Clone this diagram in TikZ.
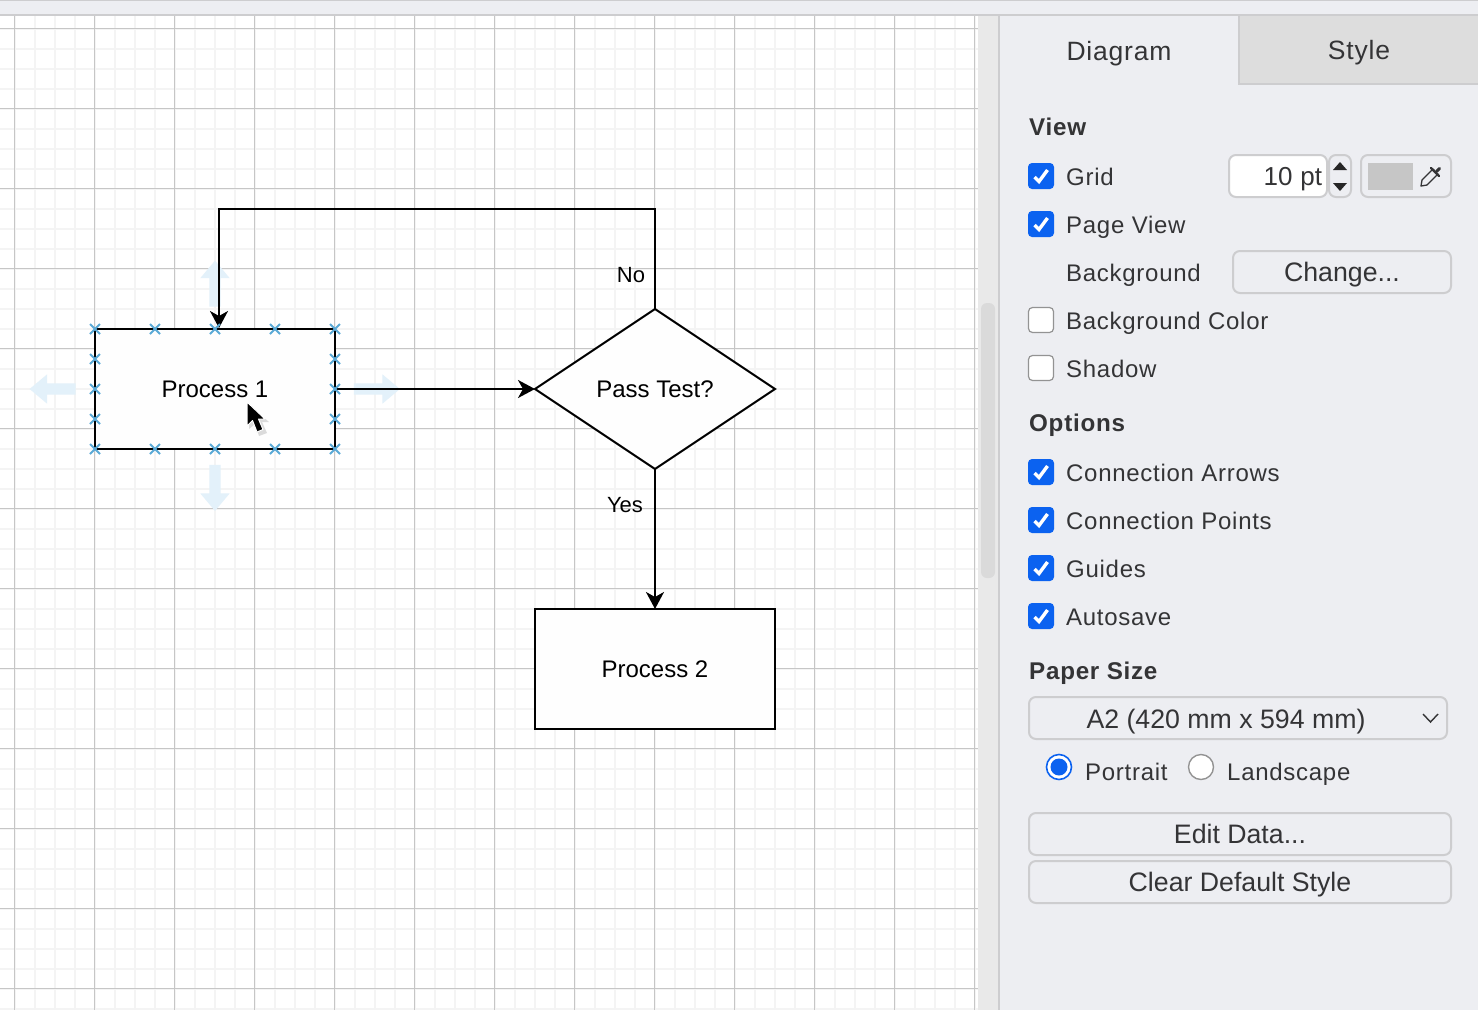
\documentclass[tikz,border=0pt]{standalone}
\usepackage{fontspec}
\setmainfont{Liberation Sans}
\newfontfamily\uifont[LetterSpace=3]{Liberation Sans}
\usepackage{xcolor}
\usetikzlibrary{calc,positioning,shapes.geometric,shapes.arrows,arrows.meta}
\definecolor{dark}{HTML}{000000}
\definecolor{body}{HTML}{343436}
\definecolor{panel}{HTML}{EDEEF2}
\definecolor{tabgrey}{HTML}{DDDDDD}
\definecolor{edgegrey}{HTML}{CDCDCF}
\definecolor{gutter}{HTML}{E9E9E9}
\definecolor{thumb}{HTML}{DADADA}
\definecolor{gridmajor}{HTML}{C6C6C6}
\definecolor{gridminor}{HTML}{F4F4F4}
\definecolor{checkblue}{HTML}{0B62F0}
\definecolor{pointblue}{HTML}{5AA9D6}
\definecolor{hintblue}{HTML}{E3F1FA}
\tikzset{
  x=1pt, y=-1pt,
  flow/.style={draw=dark, line width=2pt, -{Stealth[length=17pt,width=18pt,inset=5pt]}},
  shapebox/.style={draw=dark, line width=2pt, fill=white!99!gray, minimum width=240pt, minimum height=120pt, inner sep=0pt, outer sep=0pt, font=\fontsize{24}{28}\selectfont},
  decision/.style={diamond, aspect=1.5, draw=dark, line width=2pt, fill=white!99!gray, minimum width=240pt, minimum height=160pt, inner sep=0pt, outer sep=0pt, font=\fontsize{24}{28}\selectfont},
  edgelabel/.style={font=\fontsize{22}{26}\selectfont, inner sep=0pt},
  hint/.style={single arrow, fill=hintblue, draw=none, minimum height=46pt, inner sep=5.5pt, single arrow head extend=9pt, single arrow tip angle=80, shape border uses incircle=false},
  point/.style={draw=pointblue, line width=1.8pt},
  uilabel/.style={anchor=west, inner sep=0pt, text=body, text height=18pt, text depth=0pt, font=\uifont\fontsize{24}{28}\selectfont},
  uihead/.style={anchor=west, inner sep=0pt, text=body, text height=18pt, text depth=0pt, font=\uifont\bfseries\fontsize{24.2}{28}\selectfont},
  tabtext/.style={inner sep=0pt, text=body, text height=18pt, text depth=0pt, font=\uifont\fontsize{26.5}{30}\selectfont},
  checkon/.style={fill=checkblue, rounded corners=4pt, minimum size=26pt, inner sep=0pt, outer sep=0pt},
  checkoff/.style={draw=gray!85, line width=1.2pt, fill=white, rounded corners=4pt, minimum size=25pt, inner sep=0pt, outer sep=0pt},
  tick/.style={draw=white, line width=3.4pt},
  uibtn/.style={draw=edgegrey, line width=2pt, fill=panel, rounded corners=7pt, minimum height=42pt, inner sep=0pt, outer sep=0pt, text=body, text height=18pt, text depth=0pt, font=\fontsize{26.7}{30}\selectfont},
}
\begin{document}
\begin{tikzpicture}
  \useasboundingbox (0,0) rectangle (1478,1010);
  % canvas and grid
  \fill[white] (0,0) rectangle (1478,1010);
  \foreach \x in {14.5,34.5,...,974.5}
    \draw[gridminor, line width=2pt] (\x,15) -- (\x,1010);
  \foreach \y in {28.5,48.5,...,1008.5}
    \draw[gridminor, line width=2pt] (0,\y) -- (978,\y);
  \foreach \x in {14.5,94.5,...,974.5}
    \draw[gridmajor, line width=1.4pt] (\x,15) -- (\x,1010);
  \foreach \y in {28.5,108.5,...,988.5}
    \draw[gridmajor, line width=1.4pt] (0,\y) -- (978,\y);

  % hover arrows
  \node[hint, rotate=90] (hintup) at (215,287) {};
  \node[hint] (hintright) at (373.5,389) {};
  \node[hint, rotate=-90] (hintdown) at (215,484.5) {};
  \node[hint, rotate=180] (hintleft) at (56,389) {};

  % flowchart
  \node[shapebox] (proc1) at (215,389) {Process 1};
  \node[decision] (pass) at (655,389) {Pass Test?};
  \node[shapebox] (proc2) at (655,669) {Process 2};
  \coordinate (entry) at (219,328);
  \draw[flow] (proc1.east) -- (pass.west);
  \draw[flow] (pass.south) -- (proc2.north);
  \draw[flow] (pass.north) |- (219,209) -- (entry);
  \node[edgelabel] (nolabel) at (631,275) {No};
  \node[edgelabel] (yeslabel) at (625,505) {Yes};

  % connection points
  \foreach \px/\py in {95/329,155/329,215/329,275/329,335/329,95/449,155/449,215/449,275/449,335/449,95/359,95/389,95/419,335/359,335/389,335/419}
    \draw[point] (\px-5,\py-5) -- (\px+5,\py+5) (\px-5,\py+5) -- (\px+5,\py-5);

  % mouse cursor
  \fill[black!14] (249,405) -- (249,429) -- (255,424) -- (259,436) -- (267,433) -- (262,422) -- (269,422) -- cycle;
  \draw[white, line width=1pt, fill=black, line join=round] (247,402) -- (247,426) -- (252.5,420.5) -- (257,432) -- (263,429.5) -- (258.5,419) -- (265,419) -- cycle;

  % top bar, scrollbar and panel
  \fill[panel] (0,0) rectangle (1478,14);
  \draw[edgegrey, line width=1.5pt] (0,0.5) -- (1478,0.5);
  \draw[edgegrey, line width=2pt] (0,15) -- (1478,15);
  \fill[gutter] (978,16) rectangle (998,1010);
  \fill[thumb, rounded corners=6pt] (981,303) rectangle (995,578);
  \fill[panel] (999,16) rectangle (1478,1010);
  \draw[edgegrey, line width=2pt] (999,16) -- (999,1010);
  \fill[tabgrey] (1239,16) rectangle (1478,84);
  \draw[edgegrey, line width=2pt] (1239,16) -- (1239,84) -- (1478,84);
  \node[tabtext] (tabdiagram) at (1119,51) {Diagram};
  \node[tabtext] (tabstyle) at (1359,50) {Style};

  % section heads
  \node[uihead] (headview) at (1029,126) {View};
  \node[uihead] (headoptions) at (1029,422) {Options};
  \node[uihead] (headpaper) at (1029,670) {Paper Size};

  % check boxes
  \foreach \nm/\yy/\txt in {grid/176/Grid,pageview/224/Page View,arrows/472/Connection Arrows,points/520/Connection Points,guides/568/Guides,autosave/616/Autosave} {
    \node[checkon] (\nm) at (1041,\yy) {};
    \draw[tick] ([shift={(-6.5,1)}]\nm.center) -- ([shift={(-2,5.5)}]\nm.center) -- ([shift={(6.5,-6)}]\nm.center);
    \node[uilabel] (\nm text) at (1066,\yy) {\txt};
  }
  \foreach \nm/\yy/\txt in {bgcolor/320/Background Color,shadow/368/Shadow} {
    \node[checkoff] (\nm) at (1041,\yy) {};
    \node[uilabel] (\nm text) at (1066,\yy) {\txt};
  }
  \node[uilabel] (bgtext) at (1066,272) {Background};

  % grid size and colour
  \node[uibtn, fill=white, minimum width=98pt, text width=88pt, align=right, font=\fontsize{26}{30}\selectfont] (gridsize) at (1278,176) {10\hspace{-1pt} pt};
  \node[uibtn, minimum width=22pt] (stepper) at (1340,176) {};
  \fill[dark!85] (1333,170) -- (1347,170) -- (1340,162) -- cycle;
  \fill[dark!85] (1333,183) -- (1347,183) -- (1340,191) -- cycle;
  \node[uibtn, minimum width=90pt] (gridcolor) at (1406,176) {};
  \node[fill=gridmajor, minimum width=45pt, minimum height=27pt, inner sep=0pt] (swatch) at (1390.5,176) {};
  \draw[body, line width=1.3pt, line join=round] (1421,186) -- (1422,180) -- (1433,169) -- (1438,174) -- (1427,185) -- cycle;
  \draw[body, line width=2.2pt, line cap=round] (1431,168) -- (1439,176);
  \draw[body, line width=3pt, line cap=round] (1437,171) -- (1439.5,168.5);

  \node[uibtn, minimum width=218pt] (change) at (1342,272) {Change...};

  % paper size
  \node[uibtn, minimum width=418pt] (paper) at (1238,718) {};
  \node[inner sep=0pt, text=body, text height=18pt, text depth=0pt, font=\fontsize{26.7}{30}\selectfont] (papertext) at (1226,719) {A2 (420 mm x 594 mm)};
  \draw[body, line width=1.4pt] (1423,714) -- (1430.5,722) -- (1438,714);
  \node[circle, draw=checkblue, line width=1.6pt, fill=white, minimum size=25pt, inner sep=0pt] (portrait) at (1059,767) {};
  \node[circle, fill=checkblue, minimum size=17pt, inner sep=0pt] (portraitdot) at (1059,767) {};
  \node[uilabel] (portraittext) at (1085,771) {Portrait};
  \node[circle, draw=gray!85, line width=1.4pt, fill=white, minimum size=25pt, inner sep=0pt] (landscape) at (1201,767) {};
  \node[uilabel] (landscapetext) at (1227,771) {Landscape};

  % buttons
  \node[uibtn, minimum width=422pt] (editdata) at (1240,834) {Edit Data...};
  \node[uibtn, minimum width=422pt] (cleardefault) at (1240,882) {Clear Default Style};
\end{tikzpicture}
\end{document}
